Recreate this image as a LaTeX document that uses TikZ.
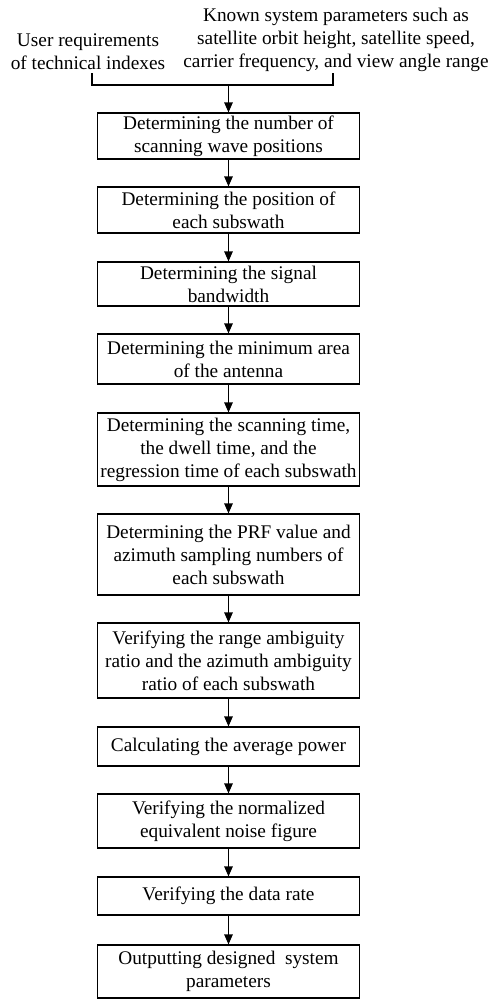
\documentclass[tikz,border=0pt]{standalone}
\usepackage{fontspec}
\setmainfont{Liberation Serif}
\usetikzlibrary{arrows.meta}
\begin{document}
\begin{tikzpicture}[x=1pt,y=1pt,
  every node/.style={font=\fontsize{19.3}{23}\selectfont, align=center},
  stepbox/.style={draw, line width=1.2pt, minimum width=262pt, inner sep=0pt},
  flow/.style={line width=1.2pt, -{Triangle[length=10pt,width=8.5pt]}},
  plain/.style={line width=1.2pt}]
\useasboundingbox (0,0) rectangle (496,-1001);
\node (usr) at (88,-52) {User requirements\\of technical indexes};
\node (sys) at (336,-40) {Known system parameters such as\\satellite orbit height, satellite speed,\\carrier frequency, and view angle range};
\coordinate (bl) at (92,-73);
\coordinate (br) at (333,-73);
\coordinate (blb) at (92,-85);
\coordinate (brb) at (333,-85);
\coordinate (bm) at (228.5,-85);
\node[stepbox, minimum height=46pt] (b1) at (228.5,-136) {Determining the number of\\scanning wave positions};
\node[stepbox, minimum height=46pt] (b2) at (228.5,-210) {Determining the position of\\each subswath};
\node[stepbox, minimum height=44pt] (b3) at (228.5,-284) {Determining the signal\\bandwidth};
\node[stepbox, minimum height=50pt] (b4) at (228.5,-359) {Determining the minimum area\\of the antenna};
\node[stepbox, minimum height=73pt] (b5) at (228.5,-449.5) {Determining the scanning time,\\the dwell time, and the\\regression time of each subswath};
\node[stepbox, minimum height=81pt] (b6) at (228.5,-554.5) {Determining the PRF value and\\azimuth sampling numbers of\\each subswath};
\node[stepbox, minimum height=75pt] (b7) at (228.5,-660.5) {Verifying the range ambiguity\\ratio and the azimuth ambiguity\\ratio of each subswath};
\node[stepbox, minimum height=39pt] (b8) at (228.5,-746.5) {Calculating the average power};
\node[stepbox, minimum height=54pt] (b9) at (228.5,-821) {Verifying the normalized\\equivalent noise figure};
\node[stepbox, minimum height=38pt] (b10) at (228.5,-896) {Verifying the data rate};
\node[stepbox, minimum height=53pt] (b11) at (228.5,-971.5) {Outputting designed\ \ system\\parameters};
\draw[plain] (bl) -- (blb) -- (brb) -- (br);
\draw[flow] (bm) -- (b1.north);
\draw[flow] (b1) -- (b2);
\draw[flow] (b2) -- (b3);
\draw[flow] (b3) -- (b4);
\draw[flow] (b4) -- (b5);
\draw[flow] (b5) -- (b6);
\draw[flow] (b6) -- (b7);
\draw[flow] (b7) -- (b8);
\draw[flow] (b8) -- (b9);
\draw[flow] (b9) -- (b10);
\draw[flow] (b10) -- (b11);
\end{tikzpicture}
\end{document}
